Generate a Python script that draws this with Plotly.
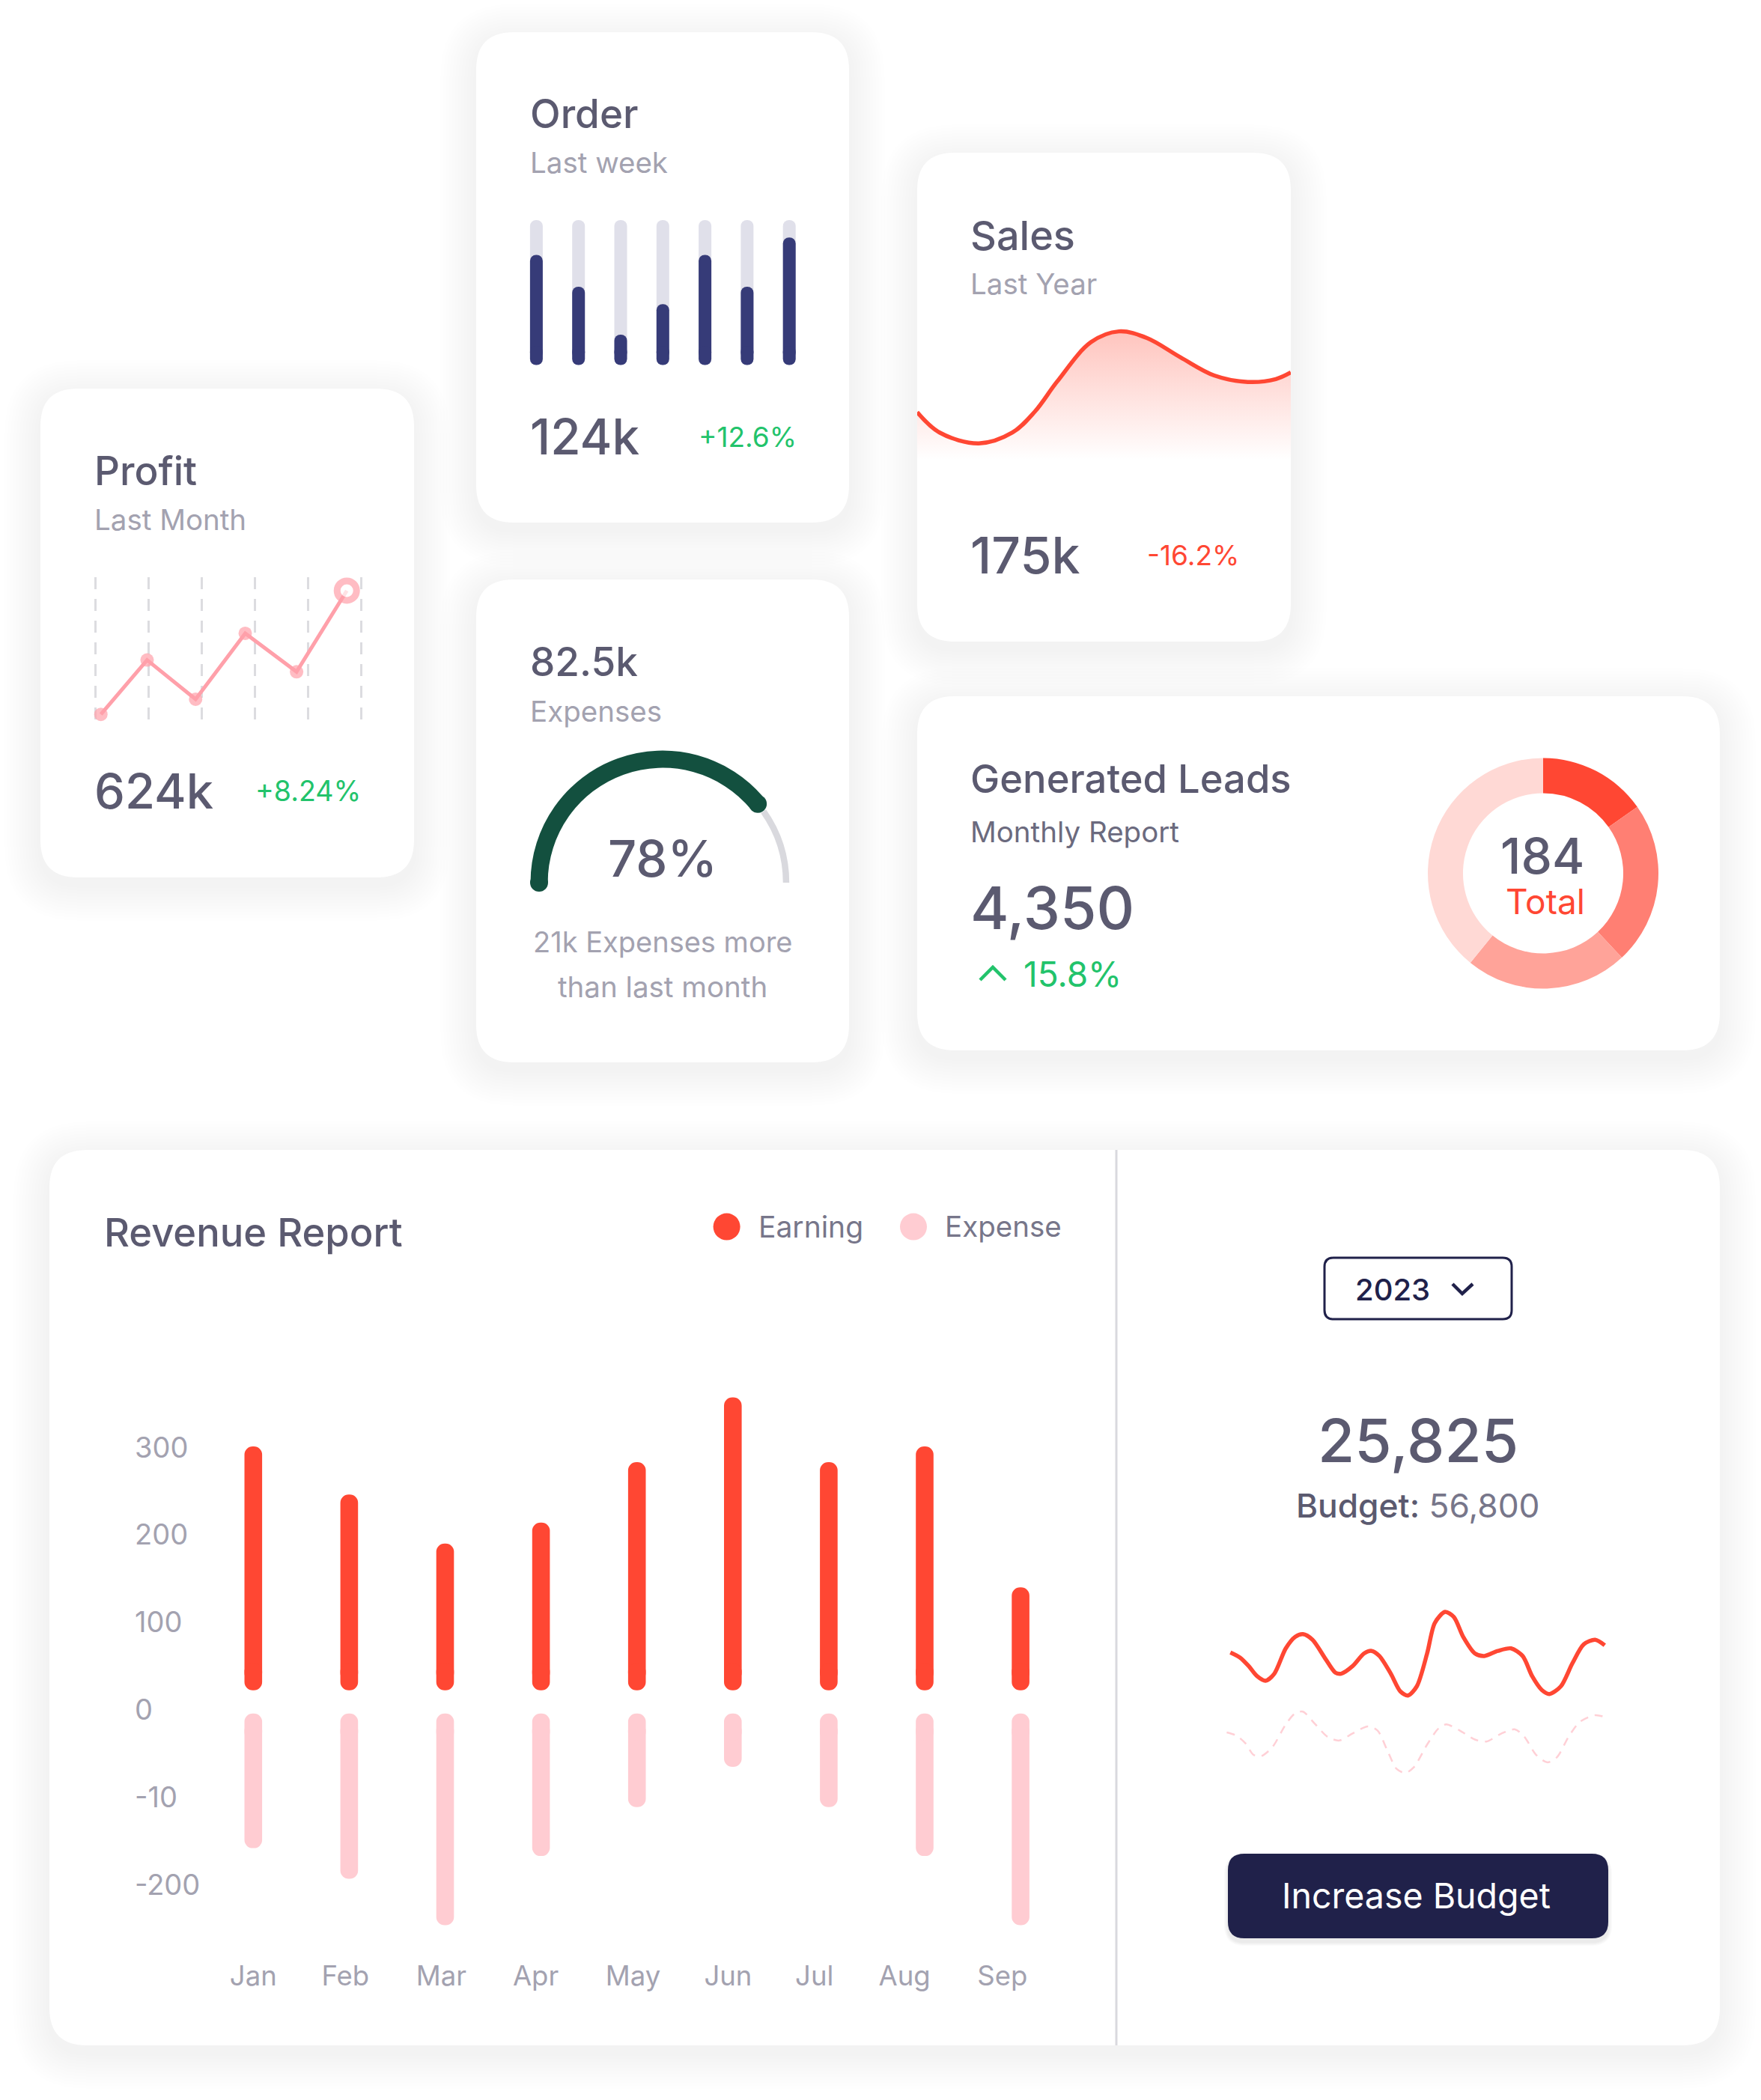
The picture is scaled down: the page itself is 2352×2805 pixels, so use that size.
import math
import plotly.graph_objects as go

W, H = 2352, 2805
FONT = "Inter"
INK, MUTED, GREEN, RED = "#5b5a70", "#a3a2b0", "#22c36b", "#ff4733"
NAVY, DARK, PINK, PALE = "#363b78", "#20214a", "#ffa0aa", "#ffccd2"

# ---- data ----
MONTHS = ["Jan", "Feb", "Mar", "Apr", "May", "Jun", "Jul", "Aug", "Sep"]
EARNING = [301, 246, 190, 214, 283, 357, 283, 301, 140]
EXPENSE = [-158, -193, -246, -167, -111, -65, -111, -167, -246]
REV_TICKS = [300, 200, 100, 0, -100, -200]
REV_TICKTEXT = ["300", "200", "100", "0", "-10", "-200"]
MONTH_LABEL_NUDGE = [0, -0.04, -0.04, -0.055, -0.04, -0.05, -0.15, -0.21, -0.19]

ORDER_VALUES = [76, 54, 21, 42, 76, 54, 88]
ORDER_TRACK = [100] * 7

PROFIT_X = [0.106, 0.975, 1.887, 2.82, 3.785, 4.73]
PROFIT_Y = [4.3, 42.3, 14.9, 61, 34.1, 90.8]

SALES_X = [0, 6, 16.5, 25.5, 31.5, 37.5, 46.5, 54, 61.5, 70.5, 79.5, 88.5, 96, 100]
SALES_Y = [32.9, 18.8, 11.3, 18.8, 33.3, 54.2, 81.3, 88.8, 84.2, 70.8, 58.3, 53.8, 55.8, 60.4]

GAUGE_VALUE = 78
LEADS = [28, 42, 42, 72]

BUDGET_X = [1, 3.5, 5.8, 8, 10.2, 12.5, 15.5, 18, 20, 22.5, 26, 28.5, 30, 33, 36, 38, 40, 43, 45.5, 47.5,
            49.8, 52.5, 54.5, 57.2, 59.5, 62, 65, 67.5, 71, 74.5, 77.5, 80, 82.5, 84.5, 87.5, 90.5, 93.5, 96.5, 99]
BUDGET_Y = [252, 242, 225, 205, 196, 210, 260, 283, 288, 277, 238, 212, 210, 225, 250, 255, 245, 210, 175, 167,
            185, 250, 310, 332, 322, 282, 250, 245, 255, 260, 245, 205, 178, 170, 185, 230, 268, 277, 266]
PLAN_X = [0, 2.5, 5, 7, 9, 12, 15.5, 18, 20, 23, 26.5, 29.5, 33, 37, 39.5, 42, 44.5, 46.8, 49, 52.5,
          55.5, 57.5, 61, 65, 68, 72, 75.5, 78, 81, 84, 86.5, 89.5, 92.5, 96.5, 100]
PLAN_Y = [94, 88, 72, 50, 47, 65, 110, 132, 135, 112, 85, 78, 92, 106, 98, 60, 22, 14, 25, 70,
          102, 110, 98, 80, 76, 92, 100, 85, 50, 35, 45, 85, 115, 128, 122]


def px(x):
    return x / W


def py(y):
    return 1 - y / H


shapes, annotations = [], []


def rrect_path(x0, y0, x1, y1, r):
    a, b, c, d = px(x0), px(x1), py(y0), py(y1)
    rx, ry = r / W, r / H
    return (f"M{a+rx},{c} L{b-rx},{c} Q{b},{c} {b},{c-ry} L{b},{d+ry} Q{b},{d} {b-rx},{d} "
            f"L{a+rx},{d} Q{a},{d} {a},{d+ry} L{a},{c-ry} Q{a},{c} {a+rx},{c} Z")


def rrect(x0, y0, x1, y1, r, fill, line=None, lw=0, opacity=1):
    shapes.append(dict(type="path", path=rrect_path(x0, y0, x1, y1, r), xref="paper", yref="paper",
                       fillcolor=fill, opacity=opacity, layer="below",
                       line=dict(color=line or "rgba(0,0,0,0)", width=lw)))


def card(x0, y0, x1, y1, r=50):
    for i in range(12, 0, -1):
        g = i * 4
        rrect(x0 - g, y0 - g + 10, x1 + g, y1 + g + 10, r + g, "#30304a", opacity=0.0055)
    rrect(x0, y0, x1, y1, r, "#ffffff")


def stroke(points, color, width):
    d = "M" + " L".join(f"{px(a)},{py(b)}" for a, b in points)
    shapes.append(dict(type="path", path=d, xref="paper", yref="paper", layer="below",
                       line=dict(color=color, width=width)))


def dot(cx, cy, r, color):
    shapes.append(dict(type="circle", xref="paper", yref="paper", layer="below",
                       x0=px(cx - r), x1=px(cx + r), y0=py(cy + r), y1=py(cy - r),
                       fillcolor=color, line=dict(width=0)))


def txt(x, y, text, size, color=INK, anchor="left", weight=400):
    annotations.append(dict(x=px(x), y=py(y), xref="paper", yref="paper", text=text, showarrow=False,
                            xanchor=anchor, yanchor="middle", borderpad=0, borderwidth=0,
                            font=dict(family=FONT, size=size, color=color, weight=weight)))


fig = go.Figure()
layout_axes = {}
HIDDEN = dict(showgrid=False, zeroline=False, showline=False, showticklabels=False, ticks="", fixedrange=True)


def axes(n, left, right, top, bottom, xr, yr, xopts=None, yopts=None):
    suffix = "" if n == 1 else str(n)
    layout_axes["xaxis" + suffix] = {**HIDDEN, "domain": [px(left), px(right)], "range": xr,
                                     "anchor": "y" + suffix, **(xopts or {})}
    layout_axes["yaxis" + suffix] = {**HIDDEN, "domain": [py(bottom), py(top)], "range": yr,
                                     "anchor": "x" + suffix, **(yopts or {})}
    return "x" + suffix, "y" + suffix


def capsule_bars(xs, lo, hi, width, color, radius, r_units, xa, ya, down=False):
    """Both ends rounded: a long bar from just inside one end, and a short overlapping one back to that end."""
    sign = -1 if down else 1
    base = [l + sign * r_units for l in lo]
    cap_base = [l + sign * 3 * r_units for l in lo]
    fig.add_trace(go.Bar(x=xs, y=[h - b for h, b in zip(hi, base)], base=base, width=width, xaxis=xa, yaxis=ya,
                         marker=dict(color=color, cornerradius=radius, line=dict(width=0)), showlegend=False))
    fig.add_trace(go.Bar(x=xs, y=[-sign * 3 * r_units] * len(xs), base=cap_base, width=width, xaxis=xa, yaxis=ya,
                         marker=dict(color=color, cornerradius=radius, line=dict(width=0)), showlegend=False))


# ---- cards ----
card(54, 519, 553, 1172)
card(636, 43, 1134, 698)
card(636, 774, 1134, 1419)
card(1225, 204, 1724, 857)
card(1225, 930, 2297, 1403)
card(66, 1536, 2297, 2732)
shapes.append(dict(type="line", xref="paper", yref="paper", layer="below", x0=px(1491), x1=px(1491),
                   y0=py(1536), y1=py(2732), line=dict(color="#d9d9de", width=3)))

# ---- Profit ----
grid_step = (482.4 - 127.2) / 5
xa, ya = axes(1, 123.2, 486.4, 771.4, 962.4, [-4 / grid_step, 5 + 4 / grid_step], [0, 100],
              xopts=dict(showgrid=True, dtick=1, tick0=0, gridcolor="#dcdce0", gridwidth=3, griddash="16px,13px"))
fig.add_trace(go.Scatter(x=PROFIT_X, y=PROFIT_Y, mode="lines+markers", xaxis=xa, yaxis=ya, cliponaxis=False,
                         line=dict(color=PINK, width=5), showlegend=False,
                         marker=dict(size=[18] * 5 + [26], color=[PINK] * 5 + ["#ffffff"],
                                     line=dict(color=PINK, width=[0] * 5 + [9]))))
txt(126, 629, "Profit", 53, weight=500)
txt(126, 694, "Last Month", 38.5, MUTED)
txt(126, 1056, "624k", 65, weight=500)
txt(341, 1056, "+8.24%", 37.5, GREEN)

# ---- Order ----
step = 56.3
ord_x = list(range(7))
xa, ya = axes(2, 690, 1080, 280, 500,
              [(690 - 716.4) / step, (1080 - 716.4) / step],
              [(487.6 - 500) / 1.937, (487.6 - 280) / 1.937])
capsule_bars(ord_x, [0] * 7, ORDER_TRACK, 17 / step, "#e0e0ea", 8.5, 4.4, xa, ya)
capsule_bars(ord_x, [0] * 7, ORDER_VALUES, 17 / step, NAVY, 8.5, 4.4, xa, ya)
txt(708, 152, "Order", 53, weight=500)
txt(708, 217, "Last week", 38.5, MUTED)
txt(708, 583, "124k", 65.5, weight=500)
txt(933, 583, "+12.6%", 37, GREEN)

# ---- Expenses gauge ----
gauge_cx, gauge_cy, gauge_r = 885, 1179, 165
cap_pct = 2.4
for radius, hole, vals, colors in [
        (169.2, 0.95, [GAUGE_VALUE + cap_pct, 100 - GAUGE_VALUE - cap_pct, 100], ["rgba(0,0,0,0)", "#d9d9de", "rgba(0,0,0,0)"]),
        (176.5, 0.869, [GAUGE_VALUE, 100 - GAUGE_VALUE, 100], ["#13503f", "rgba(0,0,0,0)", "rgba(0,0,0,0)"])]:
    fig.add_trace(go.Pie(values=vals, rotation=270, direction="clockwise",
                         sort=False, hole=hole, textinfo="none", hoverinfo="skip", showlegend=False,
                         marker=dict(colors=colors, line=dict(width=0)),
                         domain=dict(x=[px(gauge_cx - radius), px(gauge_cx + radius)],
                                     y=[py(gauge_cy + radius), py(gauge_cy - radius)])))
xa, ya = axes(3, gauge_cx - gauge_r, gauge_cx + gauge_r, gauge_cy - gauge_r, gauge_cy + gauge_r, [-1, 1], [-1, 1])
end_angle = math.pi * (1 - GAUGE_VALUE / 100)
fig.add_trace(go.Scatter(x=[-1, math.cos(end_angle)], y=[0, math.sin(end_angle)], mode="markers", xaxis=xa, yaxis=ya,
                         cliponaxis=False, showlegend=False, marker=dict(size=24, color="#13503f", line=dict(width=0))))
txt(708, 884, "82.5k", 53, weight=500)
txt(708, 950, "Expenses", 38.5, MUTED)
txt(885, 1146, "78%", 67, anchor="center", weight=500)
txt(885, 1258, "21k Expenses more", 38, MUTED, anchor="center")
txt(885, 1318, "than last month", 38.5, MUTED, anchor="center")

# ---- Sales ----
xa, ya = axes(4, 1225, 1724, 421, 614, [0, 100], [0, 100])
fig.add_trace(go.Scatter(x=SALES_X, y=SALES_Y, mode="lines", xaxis=xa, yaxis=ya, cliponaxis=False, showlegend=False,
                         line=dict(color=RED, width=5.5, shape="spline", smoothing=1), fill="tozeroy",
                         fillgradient=dict(type="vertical", start=88.8, stop=0,
                                           colorscale=[[0, "rgba(255,71,51,0.32)"], [1, "rgba(255,71,51,0)"]])))
txt(1296, 314, "Sales", 54, weight=500)
txt(1296, 379, "Last Year", 38.5, MUTED)
txt(1296, 741, "175k", 68, weight=500)
txt(1532, 741, "-16.2%", 37, RED)

# ---- Generated Leads ----
fig.add_trace(go.Pie(values=LEADS, rotation=0, direction="clockwise", sort=False, hole=0.695, textinfo="none",
                     hoverinfo="skip", showlegend=False,
                     marker=dict(colors=[RED, "#ff7f73", "#ffa399", "#ffd9d5"], line=dict(width=0)),
                     domain=dict(x=[px(2061 - 154), px(2061 + 154)], y=[py(1166.5 + 154), py(1166.5 - 154)])))
txt(1296, 1040, "Generated Leads", 52.5, weight=500)
txt(1296, 1111, "Monthly Report", 38.5, "#6b6a7e")
txt(1296, 1213, "4,350", 78.5, weight=500)
stroke([(1309, 1309), (1326, 1292), (1343, 1309)], GREEN, 4.5)
txt(1367, 1301, "15.8%", 46, GREEN)
txt(2060, 1143, "184", 66, anchor="center", weight=500)
txt(2064, 1204, "Total", 46, RED, anchor="center")

# ---- Revenue Report ----
r_step, r_unit = 128.1, 1.169
rev_left, rev_right, rev_top, rev_bottom = 177, 1440, 1850, 2600
month_x = list(range(9))
xa, ya = axes(5, rev_left, rev_right, rev_top, rev_bottom,
              [(rev_left - 338.3) / r_step, (rev_right - 338.3) / r_step],
              [(2283.9 - rev_bottom) / r_unit, (2283.9 - rev_top) / r_unit],
              xopts=dict(showticklabels=True, tickmode="array", tickvals=[i + n for i, n in zip(month_x, MONTH_LABEL_NUDGE)],
                         ticktext=MONTHS, tickfont=dict(family=FONT, size=36.5, color=MUTED), ticklabelstandoff=14),
              yopts=dict(showticklabels=True, tickmode="array", tickvals=REV_TICKS, ticktext=REV_TICKTEXT,
                         tickfont=dict(family=FONT, size=38, color=MUTED), ticklabelposition="inside"))
capsule_bars(month_x, [22.3] * 9, EARNING, 23.6 / r_step, RED, 11.8, 10.3, xa, ya)
capsule_bars(month_x, [-4.1] * 9, EXPENSE, 23.6 / r_step, PALE, 11.8, 10.3, xa, ya, down=True)
txt(139, 1646, "Revenue Report", 52.5, weight=500)
dot(970.6, 1638.6, 18, RED)
txt(1013, 1638, "Earning", 39, "#77768a")
dot(1220, 1638.6, 18, PALE)
txt(1262, 1638, "Expense", 38.5, "#77768a")

# ---- Budget panel ----
rrect(1769, 1680, 2019, 1762, 12, "#ffffff", line=DARK, lw=3)
txt(1860, 1722, "2023", 40, DARK, anchor="center", weight=500)
stroke([(1940, 1715), (1953, 1728), (1967, 1715)], DARK, 4.5)
txt(1894, 1923, "25,825", 80, anchor="center", weight=500)
txt(1894, 2011, "<span style='font-weight:500'>Budget:</span> <span style='color:#77768a'>56,800</span>", 44.3, anchor="center")
xa, ya = axes(6, 1638.2, 2148.4, 2140.9, 2377.6, [0, 100], [0, 350])
fig.add_trace(go.Scatter(x=PLAN_X, y=PLAN_Y, mode="lines", xaxis=xa, yaxis=ya, cliponaxis=False, showlegend=False,
                         line=dict(color="#ffd0d6", width=2.5, shape="spline", smoothing=0.8, dash="11px,9px")))
fig.add_trace(go.Scatter(x=BUDGET_X, y=BUDGET_Y, mode="lines", xaxis=xa, yaxis=ya, cliponaxis=False, showlegend=False,
                         line=dict(color=RED, width=5.5, shape="spline", smoothing=0.8)))
for i in range(5, 0, -1):
    rrect(1640 - i, 2476 - i + 5, 2148 + i, 2589 + i + 5, 22 + i, "#30304a", opacity=0.02)
rrect(1640, 2476, 2148, 2589, 22, DARK)
txt(1892, 2532, "Increase Budget", 46.5, "#ffffff", anchor="center")

fig.update_layout(width=W, height=H, autosize=False, margin=dict(l=0, r=0, t=0, b=0, pad=0),
                  paper_bgcolor="#ffffff", plot_bgcolor="rgba(0,0,0,0)", barmode="overlay", hovermode=False,
                  showlegend=False, shapes=shapes, annotations=annotations, font=dict(family=FONT),
                  **layout_axes)
fig.write_html("out.html", post_script="document.body.style.margin='0';", config=dict(displayModeBar=False))
